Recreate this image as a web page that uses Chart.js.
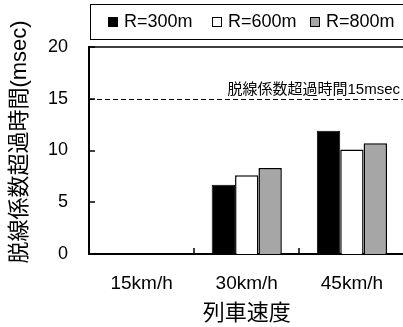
<!DOCTYPE html>
<html>
<head>
<meta charset="utf-8">
<script src="https://cdn.jsdelivr.net/npm/chart.js@4.4.0/dist/chart.umd.min.js"></script>
<style>
  html, body { margin: 0; padding: 0; background: #fff; overflow: hidden; }
  #wrap { width: 412px; height: 327px; }
</style>
</head>
<body>
<div id="wrap"><canvas id="c" width="412" height="327"></canvas></div>
<script>
// データ
const speeds = ["15km/h", "30km/h", "45km/h"];
const r300 = [0, 6.7, 11.9];
const r600 = [0, 7.6, 10.1];
const r800 = [0, 8.3, 10.7];
const limitValue = 15;
const limitLabel = "脱線係数超過時間15msec";
const yTitle = "脱線係数超過時間(msec)";
const yTicks = [0, 5, 10, 15, 20];

const FONT = "'Liberation Sans', 'Noto Sans CJK JP', sans-serif";

// 凡例と枠、内向きの目盛り、基準線、縦軸タイトル
const extras = {
  id: "extras",
  afterDraw(chart) {
    const ctx = chart.ctx;
    const a = chart.chartArea;
    const x = chart.scales.x;
    const y = chart.scales.y;
    ctx.save();

    // 基準線 (15msec)
    const yl = y.getPixelForValue(limitValue);
    ctx.strokeStyle = "#000";
    ctx.lineWidth = 1;
    ctx.setLineDash([5, 3]);
    ctx.beginPath();
    ctx.moveTo(a.left, Math.round(yl) + 0.5);
    ctx.lineTo(a.right, Math.round(yl) + 0.5);
    ctx.stroke();
    ctx.setLineDash([]);
    ctx.fillStyle = "#000";
    ctx.font = "15px " + FONT;
    ctx.textAlign = "right";
    ctx.textBaseline = "alphabetic";
    ctx.fillText(limitLabel, 400, yl - 5);

    // 枠
    ctx.lineWidth = 1.5;
    ctx.beginPath();
    ctx.moveTo(a.left, a.top);
    ctx.lineTo(a.right, a.top);
    ctx.lineTo(a.right, a.bottom);
    ctx.stroke();

    // 内向きの目盛り
    yTicks.forEach(v => {
      const py = Math.round(y.getPixelForValue(v));
      ctx.beginPath();
      ctx.moveTo(a.left, py);
      ctx.lineTo(a.left + 6, py);
      ctx.stroke();
    });
    for (let i = 1; i < speeds.length; i++) {
      const px = Math.round((x.getPixelForValue(i - 1) + x.getPixelForValue(i)) / 2);
      ctx.beginPath();
      ctx.moveTo(px, a.bottom);
      ctx.lineTo(px, a.bottom - 6);
      ctx.stroke();
    }

    // 縦軸タイトル
    ctx.save();
    ctx.translate(20, 142);
    ctx.rotate(-Math.PI / 2);
    ctx.font = "22px " + FONT;
    ctx.textAlign = "center";
    ctx.textBaseline = "middle";
    ctx.fillText(yTitle, 0, 0);
    ctx.restore();

    // 凡例
    ctx.lineWidth = 1;
    ctx.strokeRect(90.5, 4.5, 330, 35);
    const itemX = [108, 212, 310];
    ctx.font = "18px " + FONT;
    ctx.textAlign = "left";
    ctx.textBaseline = "middle";
    chart.data.datasets.forEach((ds, i) => {
      ctx.fillStyle = ds.backgroundColor;
      ctx.fillRect(itemX[i], 17, 10, 10);
      ctx.strokeStyle = "#000";
      ctx.strokeRect(itemX[i] + 0.5, 17.5, 9, 9);
      ctx.fillStyle = "#000";
      ctx.fillText(ds.label, itemX[i] + 16, 22);
    });
    ctx.restore();
  }
};

new Chart(document.getElementById("c"), {
  type: "bar",
  data: {
    labels: speeds,
    datasets: [
      { label: "R=300m", data: r300, backgroundColor: "#000000", borderColor: "#000", borderWidth: 1 },
      { label: "R=600m", data: r600, backgroundColor: "#ffffff", borderColor: "#000", borderWidth: 1.5 },
      { label: "R=800m", data: r800, backgroundColor: "#a6a6a6", borderColor: "#000", borderWidth: 1.5 }
    ]
  },
  options: {
    responsive: false,
    animation: false,
    layout: { padding: { top: 47, right: 7.5, bottom: 0, left: 0 } },
    datasets: { bar: { categoryPercentage: 0.667, barPercentage: 1 } },
    plugins: { legend: { display: false }, tooltip: { enabled: false } },
    scales: {
      x: {
        afterFit: s => { s.height = 73; },
        grid: { display: false, drawTicks: false },
        border: { display: true, color: "#000", width: 2 },
        ticks: { color: "#000", padding: 18, font: { family: FONT, size: 19 } },
        title: {
          display: true, text: "列車速度", color: "#000",
          font: { family: FONT, size: 22 }, padding: { top: 0, bottom: 0 }
        }
      },
      y: {
        min: 0, max: 20,
        afterFit: s => { s.width = 89; },
        afterBuildTicks: s => { s.ticks = yTicks.map(v => ({ value: v })); },
        grid: { display: false, drawTicks: false },
        border: { display: true, color: "#000", width: 2 },
        ticks: { color: "#000", padding: 21, font: { family: FONT, size: 18 } },
        title: { display: false }
      }
    }
  },
  plugins: [extras]
});
</script>
</body>
</html>
